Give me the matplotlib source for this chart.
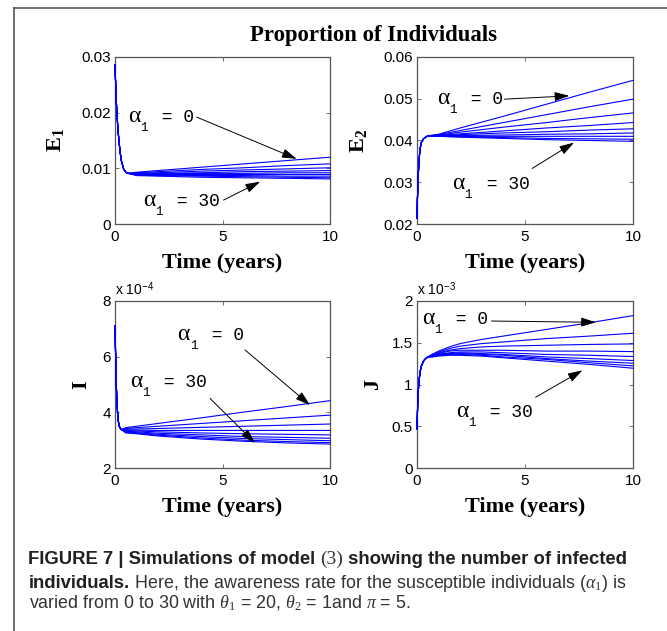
import matplotlib
matplotlib.use("Agg")
import matplotlib.pyplot as plt
from matplotlib.lines import Line2D
from matplotlib.transforms import IdentityTransform, offset_copy

plt.rcParams["mathtext.fontset"] = "custom"
plt.rcParams["mathtext.rm"] = "Liberation Serif"
plt.rcParams["mathtext.it"] = "Liberation Serif:italic"
plt.rcParams["mathtext.bf"] = "Liberation Serif:bold"
plt.rcParams["mathtext.sf"] = "Liberation Sans"

# ---- data (9 curves per panel, alpha_1 = 0 ... 30) ----
# E1
e1_t_head = [0, 0.04, 0.08, 0.12, 0.16, 0.2, 0.25, 0.3, 0.4, 0.5, 0.6]
e1_head = [0.0286, 0.0240, 0.0205, 0.0180, 0.0160, 0.0143, 0.0126, 0.0113, 0.0099, 0.0093, 0.0091]
e1_t_tail = [1, 2, 4, 6, 8, 10]
e1_tail = [
    [0.0093, 0.0096, 0.0102, 0.0108, 0.0114, 0.0120],
    [0.0092, 0.0094, 0.0098, 0.0101, 0.0105, 0.0108],
    [0.0091, 0.0092, 0.0095, 0.0097, 0.0099, 0.0101],
    [0.0090, 0.0091, 0.0092, 0.0094, 0.0095, 0.0096],
    [0.0090, 0.0090, 0.0091, 0.0091, 0.0092, 0.0092],
    [0.0089, 0.0089, 0.0089, 0.0089, 0.0089, 0.0089],
    [0.0088, 0.0088, 0.0087, 0.0087, 0.0086, 0.0086],
    [0.0088, 0.0087, 0.0086, 0.0085, 0.0084, 0.0083],
    [0.0087, 0.0086, 0.0084, 0.0083, 0.0082, 0.0081],
]

# E2
e2_t_head = [0, 0.02, 0.05, 0.08, 0.12, 0.16, 0.2, 0.3, 0.4, 0.5]
e2_head = [0.0214, 0.0260, 0.0303, 0.0340, 0.0368, 0.0385, 0.0395, 0.0404, 0.0408, 0.0411]
e2_t_tail = [1, 2, 4, 6, 8, 10]
e2_tail = [
    [0.0415, 0.0430, 0.0458, 0.0487, 0.0516, 0.0544],
    [0.0414, 0.0424, 0.0443, 0.0462, 0.0481, 0.0499],
    [0.0413, 0.0420, 0.0432, 0.0443, 0.0455, 0.0466],
    [0.0412, 0.0416, 0.0423, 0.0430, 0.0436, 0.0443],
    [0.0412, 0.0414, 0.0418, 0.0421, 0.0425, 0.0428],
    [0.0411, 0.0412, 0.0413, 0.0415, 0.0416, 0.0418],
    [0.0411, 0.0410, 0.0410, 0.0410, 0.0410, 0.0410],
    [0.0410, 0.0409, 0.0407, 0.0405, 0.0404, 0.0403],
    [0.0410, 0.0408, 0.0405, 0.0402, 0.0400, 0.0398],
]

# I (x 1e-4)
i_t_head = [0, 0.03, 0.06, 0.1, 0.15, 0.2, 0.25, 0.3]
i_head = [7.1, 6.0, 5.0, 4.2, 3.7, 3.5, 3.42, 3.38]
i_t_tail = [0.5, 1, 2, 4, 6, 8, 10]
i_tail = [
    [3.45, 3.50, 3.60, 3.80, 4.01, 4.21, 4.42],
    [3.42, 3.45, 3.50, 3.60, 3.70, 3.80, 3.90],
    [3.40, 3.40, 3.42, 3.46, 3.50, 3.54, 3.58],
    [3.37, 3.36, 3.35, 3.35, 3.35, 3.35, 3.35],
    [3.35, 3.33, 3.30, 3.26, 3.23, 3.21, 3.19],
    [3.32, 3.30, 3.25, 3.19, 3.13, 3.10, 3.07],
    [3.30, 3.27, 3.21, 3.13, 3.06, 3.02, 2.98],
    [3.28, 3.25, 3.18, 3.08, 3.00, 2.95, 2.91],
    [3.26, 3.23, 3.15, 3.04, 2.96, 2.90, 2.86],
]

# J (x 1e-3)
j_t_head = [0, 0.03, 0.06, 0.1, 0.15, 0.2, 0.3, 0.4, 0.5]
j_head = [0.47, 0.75, 0.92, 1.06, 1.16, 1.22, 1.28, 1.31, 1.33]
j_t_tail = [0.7, 1, 1.5, 2, 3, 4, 6, 8, 10]
j_tail = [
    [1.36, 1.40, 1.45, 1.49, 1.54, 1.58, 1.66, 1.74, 1.825],
    [1.36, 1.39, 1.43, 1.46, 1.49, 1.51, 1.55, 1.58, 1.614],
    [1.35, 1.38, 1.41, 1.43, 1.45, 1.46, 1.47, 1.48, 1.486],
    [1.35, 1.37, 1.40, 1.41, 1.41, 1.41, 1.40, 1.40, 1.394],
    [1.34, 1.36, 1.38, 1.39, 1.39, 1.38, 1.36, 1.35, 1.335],
    [1.34, 1.36, 1.37, 1.38, 1.37, 1.36, 1.33, 1.31, 1.287],
    [1.34, 1.35, 1.36, 1.37, 1.36, 1.35, 1.31, 1.28, 1.255],
    [1.33, 1.35, 1.36, 1.36, 1.35, 1.33, 1.30, 1.26, 1.223],
    [1.33, 1.34, 1.35, 1.35, 1.34, 1.32, 1.28, 1.24, 1.195],
]

x_ticks = [0, 5, 10]
e1_yticks = [0, 0.01, 0.02, 0.03]
e1_ylabels = ["0", "0.01", "0.02", "0.03"]
e2_yticks = [0.02, 0.03, 0.04, 0.05, 0.06]
e2_ylabels = ["0.02", "0.03", "0.04", "0.05", "0.06"]
i_yticks = [2, 4, 6, 8]
i_ylabels = ["2", "4", "6", "8"]
j_yticks = [0, 0.5, 1, 1.5, 2]
j_ylabels = ["0", "0.5", "1", "1.5", "2"]

W, H = 667, 631
fig = plt.figure(figsize=(W / 100, H / 100), dpi=100)
renderer = fig.canvas.get_renderer()

SANS = "Liberation Sans"
SERIF = "Liberation Serif"
MONO = "Liberation Mono"
SPINE = "#555555"


def make_axes(left, top, right, bottom):
    return fig.add_axes([left / W, 1 - bottom / H, (right - left) / W, (bottom - top) / H])


def style(ax, yticks, ylabels, ylim, ylab, ypad):
    ax.set_xlim(0, 10)
    ax.set_ylim(*ylim)
    ax.set_xticks(x_ticks)
    ax.set_xticklabels([str(v) for v in x_ticks], fontfamily=SANS, fontsize=11)
    ax.set_yticks(yticks)
    ax.set_yticklabels(ylabels, fontfamily=SANS, fontsize=11)
    ax.tick_params(direction="in", length=3, width=0.6, color=SPINE,
                   top=True, right=True)
    ax.tick_params(axis="x", pad=4.5)
    ax.tick_params(axis="y", pad=3)
    for sp in ax.spines.values():
        sp.set_color(SPINE)
        sp.set_linewidth(0.9)
    ax.set_xlabel("Time (years)", fontfamily=SERIF, fontweight="bold", fontsize=16, labelpad=6.5)
    ax.set_ylabel(ylab, fontfamily=SERIF, fontweight="bold", fontsize=16, labelpad=ypad)


def draw(ax, th, hv, tt, tails):
    for tv in tails:
        ax.plot(th + tt, hv + tv, color="#0000ff", lw=0.8, zorder=3, clip_on=False)


def label(ax, s, xy, start, end):
    # alpha, small subscript 1, then "= value" in a typewriter font
    a = ax.text(xy[0], xy[1], "\u03b1", fontfamily=SERIF, fontsize=17,
                ha="left", va="baseline")
    wa = a.get_window_extent(renderer).width
    ax.text(xy[0], xy[1], "1", fontfamily=MONO, fontsize=9, ha="left", va="baseline",
            transform=offset_copy(ax.transData, fig=fig, x=wa, y=-9, units="dots"))
    ax.text(xy[0], xy[1], " = " + s, fontfamily=MONO, fontsize=13, ha="left", va="baseline",
            transform=offset_copy(ax.transData, fig=fig, x=wa + 11, y=0, units="dots"))
    ax.annotate("", xy=end, xytext=start,
                arrowprops=dict(arrowstyle="-|>,head_length=0.9,head_width=0.28",
                                color="k", lw=0.7, shrinkA=0, shrinkB=0,
                                mutation_scale=10))


ax1 = make_axes(115, 57, 330, 224)
draw(ax1, e1_t_head, e1_head, e1_t_tail, e1_tail)
style(ax1, e1_yticks, e1_ylabels, (0, 0.03), r"$\mathbf{E_1}$", 11)
label(ax1, "0", (0.6, 0.0183), (3.8, 0.0192), (8.45, 0.0117))
label(ax1, "30", (1.3, 0.0032), (5.05, 0.0043), (6.75, 0.0076))

ax2 = make_axes(417, 57, 633, 224)
draw(ax2, e2_t_head, e2_head, e2_t_tail, e2_tail)
style(ax2, e2_yticks, e2_ylabels, (0.02, 0.06), r"$\mathbf{E_2}$", 10)
label(ax2, "0", (0.93, 0.0487), (4.05, 0.0499), (7.05, 0.0507))
label(ax2, "30", (1.63, 0.0285), (5.33, 0.0333), (7.27, 0.0395))

ax3 = make_axes(115, 301, 330, 468)
draw(ax3, i_t_head, i_head, i_t_tail, i_tail)
style(ax3, i_yticks, i_ylabels, (2, 8), "I", 8)
label(ax3, "0", (2.9, 6.6), (6.05, 6.24), (9.07, 4.26))
label(ax3, "30", (0.7, 4.92), (4.42, 4.50), (6.51, 2.90))
ax3.text(0, 1.015, r"x 10$^{\mathsf{-4}}$", transform=ax3.transAxes,
         fontfamily=SANS, fontsize=10, ha="left", va="bottom")

ax4 = make_axes(417, 301, 633, 468)
draw(ax4, j_t_head, j_head, j_t_tail, j_tail)
style(ax4, j_yticks, j_ylabels, (0, 2), "J", 6)
label(ax4, "0", (0.23, 1.72), (3.45, 1.76), (8.28, 1.745))
label(ax4, "30", (1.81, 0.615), (5.49, 0.847), (7.66, 1.17))
ax4.text(0, 1.015, r"x 10$^{\mathsf{-3}}$", transform=ax4.transAxes,
         fontfamily=SANS, fontsize=10, ha="left", va="bottom")

fig.text(374 / W, 1 - 35 / H, "Proportion of Individuals", fontfamily=SERIF,
         fontweight="bold", fontsize=16.4, ha="center", va="center")

# frame of the figure panel
fig.add_artist(Line2D([14 / W, 14 / W], [0, 1 - 8 / H], color="#555555", lw=1.2))
fig.add_artist(Line2D([14 / W, 1], [1 - 8 / H, 1 - 8 / H], color="#555555", lw=1.2))


# caption, drawn run by run
def runs(x, y_top, parts):
    y = H - y_top
    for s, kw in parts:
        t = fig.text(x, y, s, transform=IdentityTransform(), va="baseline", ha="left", **kw)
        x += t.get_window_extent(renderer).width


BOLD = dict(fontfamily=SANS, fontweight="bold", fontsize=13.3, color="#231f20")
REG = dict(fontfamily=SANS, fontsize=12.9, color="#333333")
REF = dict(fontfamily=SERIF, fontsize=14, color="#333333")

runs(28, 564, [("FIGURE 7 | Simulations of model ", BOLD), ("(3)", REF),
               (" showing the number of infected", BOLD)])
runs(29, 588, [("individuals.", BOLD),
               (r" Here, the awareness rate for the susceptible individuals ($\alpha_1$) is", REG)])
runs(29, 608, [(r"varied from 0 to 30 with $\theta_1$ = 20, $\theta_2$ = 1and $\pi$ = 5.", REG)])

fig.savefig("out.png", dpi=100)
